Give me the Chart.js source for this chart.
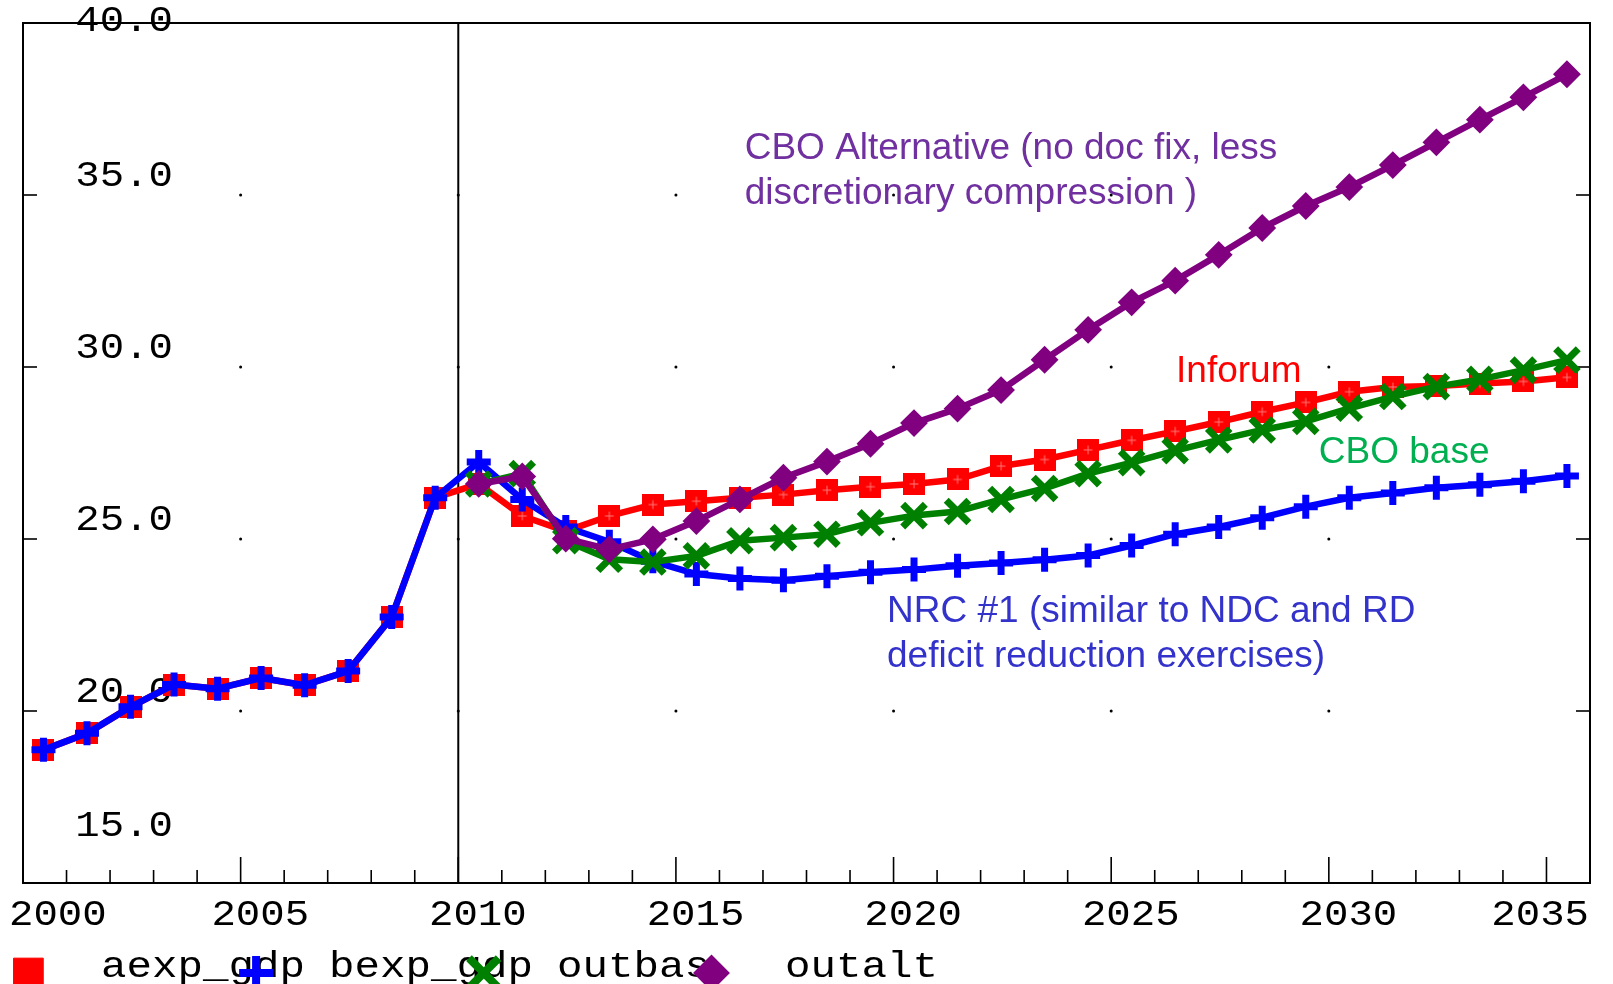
<!DOCTYPE html>
<html>
<head>
<meta charset="utf-8">
<script src="https://cdn.jsdelivr.net/npm/chart.js@4.4.0/dist/chart.umd.min.js"></script>
<style>
html,body{margin:0;padding:0;background:#ffffff;}
#wrap{width:1613px;height:984px;position:relative;}
canvas{display:block;}
</style>
</head>
<body>
<div id="wrap"><canvas id="c" width="1613" height="984"></canvas></div>
<script>
// ---------------- DATA ----------------
const years = [2000,2001,2002,2003,2004,2005,2006,2007,2008,2009,
               2010,2011,2012,2013,2014,2015,2016,2017,2018,2019,
               2020,2021,2022,2023,2024,2025,2026,2027,2028,2029,
               2030,2031,2032,2033,2034,2035];

const aexp_gdp = [18.87,19.35,20.12,20.77,20.65,20.96,20.75,21.16,22.73,26.20,
                  26.60,25.67,25.23,25.67,26.00,26.10,26.20,26.29,26.42,26.52,
                  26.60,26.73,27.12,27.31,27.59,27.87,28.13,28.40,28.70,28.97,
                  29.28,29.42,29.45,29.52,29.58,29.70];

const bexp_gdp = [18.87,19.35,20.12,20.77,20.65,20.96,20.75,21.16,22.73,26.20,
                  27.24,26.15,25.35,24.92,24.35,23.98,23.85,23.80,23.92,24.03,
                  24.11,24.22,24.30,24.40,24.52,24.81,25.14,25.35,25.62,25.94,
                  26.20,26.34,26.49,26.58,26.68,26.83];

const outbas = [null,null,null,null,null,null,null,null,null,null,
                26.60,26.90,24.95,24.41,24.33,24.51,24.95,25.04,25.14,25.47,
                25.68,25.80,26.15,26.47,26.90,27.22,27.57,27.88,28.17,28.42,
                28.80,29.14,29.43,29.64,29.91,30.20];

const outalt = [null,null,null,null,null,null,null,null,null,null,
                26.60,26.82,25.01,24.70,24.99,25.52,26.15,26.78,27.25,27.77,
                28.37,28.79,29.33,30.21,31.08,31.88,32.51,33.26,34.04,34.68,
                35.23,35.87,36.53,37.19,37.84,38.51];

const seriesNames = ['aexp_gdp','bexp_gdp','outbas','outalt'];
const xTickLabels = ['2000','2005','2010','2015','2020','2025','2030','2035'];
const yTickLabels = ['15.0','20.0','25.0','30.0','35.0','40.0'];

const noteAlt  = ['CBO Alternative (no doc fix, less','discretionary compression )'];
const noteInf  = ['Inforum'];
const noteBase = ['CBO base'];
const noteNrc  = ['NRC #1 (similar to NDC and RD','deficit reduction exercises)'];

// ---------------- CHART ----------------
const MID = 0.47; // annual values plotted at mid-year
const toPts = arr => years.map((yr, i) => ({x: yr + MID, y: arr[i]}));

const MONO = "'Liberation Mono', 'DejaVu Sans Mono', monospace";
const SANS = "'Liberation Sans', Arial, sans-serif";

function stretchText(ctx, text, x, y, align, sx) {
  const w = ctx.measureText(text).width * sx;
  let left = x;
  if (align === 'center') left = x - w / 2;
  else if (align === 'right') left = x - w;
  ctx.save();
  ctx.translate(left, y);
  ctx.scale(sx, 1);
  ctx.textAlign = 'left';
  ctx.fillText(text, 0, 0);
  ctx.restore();
  return w;
}

// red square marker with a faint inner cross, as in the source
function makeSquareMarker(size, color, inner) {
  const c = document.createElement('canvas');
  c.width = size; c.height = size;
  const g = c.getContext('2d');
  g.fillStyle = color;
  g.fillRect(0, 0, size, size);
  g.strokeStyle = inner;
  g.lineWidth = 1;
  const m = size / 2;
  g.beginPath();
  g.moveTo(m, size * 0.3); g.lineTo(m, size * 0.7);
  g.moveTo(size * 0.3, m); g.lineTo(size * 0.7, m);
  g.stroke();
  return c;
}
const redSquare = makeSquareMarker(22, '#FF0000', '#FF7A7A');

const framePlugin = {
  id: 'frame',
  beforeDatasetsDraw(chart) {
    const ctx = chart.ctx;
    const a = chart.chartArea;
    const xs = chart.scales.x, ys = chart.scales.y;
    ctx.save();
    ctx.strokeStyle = '#000';
    ctx.fillStyle = '#000';
    // frame
    ctx.lineWidth = 2;
    ctx.strokeRect(a.left, a.top, a.right - a.left, a.bottom - a.top);
    // vertical line at 2010
    const x10 = xs.getPixelForValue(2010);
    ctx.beginPath(); ctx.moveTo(x10, a.top); ctx.lineTo(x10, a.bottom); ctx.stroke();
    // x ticks
    ctx.lineWidth = 1.6;
    for (let yr = years[0] + 1; yr <= years[years.length - 1]; yr++) {
      const px = xs.getPixelForValue(yr);
      const len = (yr % 5 === 0) ? 26 : 13;
      ctx.beginPath(); ctx.moveTo(px, a.bottom); ctx.lineTo(px, a.bottom - len); ctx.stroke();
    }
    // y ticks (left & right)
    const yVals = yTickLabels.map(Number);
    yVals.forEach(v => {
      if (v <= ys.min || v >= ys.max) return;
      const py = ys.getPixelForValue(v);
      ctx.beginPath(); ctx.moveTo(a.left, py); ctx.lineTo(a.left + 14, py); ctx.stroke();
      ctx.beginPath(); ctx.moveTo(a.right, py); ctx.lineTo(a.right - 14, py); ctx.stroke();
    });
    // grid dots
    const xVals = xTickLabels.map(Number).filter(v => v > xs.min && v < 2035);
    xVals.forEach(xv => {
      yVals.forEach(yv => {
        if (yv <= ys.min || yv >= ys.max) return;
        ctx.beginPath();
        ctx.arc(xs.getPixelForValue(xv), ys.getPixelForValue(yv), 1.5, 0, Math.PI * 2);
        ctx.fill();
      });
    });
    // y labels (drawn inside plot)
    ctx.font = '36px ' + MONO;
    ctx.textBaseline = 'alphabetic';
    yTickLabels.forEach(lab => {
      const py = ys.getPixelForValue(Number(lab));
      let base = py - 9.5;
      base = Math.max(base, 31);
      base = Math.min(base, 836);
      stretchText(ctx, lab, 173, base, 'right', 1.13);
    });
    // x labels
    xTickLabels.forEach(lab => {
      const center = xs.getPixelForValue(Number(lab) + 0.45);
      const w = ctx.measureText(lab).width * 1.13;
      let left = center - w / 2;
      left = Math.max(left, 9);
      left = Math.min(left, a.right - 1 - w);
      stretchText(ctx, lab, left, 925, 'left', 1.13);
    });
    // annotations
    ctx.font = '37px ' + SANS;
    const notes = [
      {lines: noteAlt,  x: 2016.58, y: 36.05, color: '#7030A0'},
      {lines: noteInf,  x: 2026.49, y: 29.56, color: '#FF0000'},
      {lines: noteBase, x: 2029.77, y: 27.22, color: '#00B050'},
      {lines: noteNrc,  x: 2019.85, y: 22.59, color: '#3333CC'}
    ];
    ctx.textAlign = 'left';
    notes.forEach(n => {
      ctx.fillStyle = n.color;
      const px = xs.getPixelForValue(n.x);
      const py = ys.getPixelForValue(n.y);
      n.lines.forEach((t, i) => ctx.fillText(t, px, py + i * 45));
    });
    // legend
    ctx.font = '36px ' + MONO;
    const legMarker = [
      {style: 'rect', r: 21, bw: 1},
      {style: 'cross', r: 17, bw: 8},
      {style: 'crossRot', r: 21, bw: 8},
      {style: 'rectRot', r: 17, bw: 2}
    ];
    chart.data.datasets.forEach((ds, i) => {
      const mx = 28.4 + i * 227.7;
      const tx = 101 + i * 228;
      ctx.fillStyle = '#000';
      stretchText(ctx, ds.label, tx, 977, 'left', 1.18);
      ctx.save();
      ctx.fillStyle = ds.borderColor;
      ctx.strokeStyle = ds.borderColor;
      ctx.lineWidth = legMarker[i].bw;
      Chart.helpers.drawPoint(ctx, {pointStyle: legMarker[i].style, radius: legMarker[i].r, rotation: 0, borderWidth: legMarker[i].bw}, mx, 973);
      ctx.restore();
    });
    ctx.restore();
  }
};

const chart = new Chart(document.getElementById('c'), {
  type: 'line',
  data: {
    datasets: [
      {label: seriesNames[0], data: toPts(aexp_gdp), order: 3,
       borderColor: '#FF0000', backgroundColor: '#FF0000', borderWidth: 6.5,
       pointStyle: redSquare, pointRadius: 11,
       pointBackgroundColor: '#FF0000', pointBorderColor: '#FF0000'},
      {label: seriesNames[1], data: toPts(bexp_gdp), order: 2,
       borderColor: '#0000FF', backgroundColor: '#0000FF', borderWidth: 6.5,
       pointStyle: 'cross', pointRadius: 12, pointBorderWidth: 7,
       pointBackgroundColor: '#0000FF', pointBorderColor: '#0000FF'},
      {label: seriesNames[2], data: toPts(outbas), order: 1,
       borderColor: '#008000', backgroundColor: '#008000', borderWidth: 6.5,
       pointStyle: 'crossRot', pointRadius: 16, pointBorderWidth: 7,
       pointBackgroundColor: '#008000', pointBorderColor: '#008000'},
      {label: seriesNames[3], data: toPts(outalt), order: 0,
       borderColor: '#800080', backgroundColor: '#800080', borderWidth: 6.5,
       pointStyle: 'rectRot', pointRadius: 12.5, pointBorderWidth: 2,
       pointBackgroundColor: '#800080', pointBorderColor: '#800080'}
    ]
  },
  options: {
    responsive: false,
    animation: false,
    devicePixelRatio: 1,
    layout: {padding: {left: 22, top: 19, right: 17, bottom: 101}},
    elements: {line: {tension: 0, borderJoinStyle: 'round'}},
    scales: {
      x: {type: 'linear', min: 2000, max: 2036, display: false},
      y: {type: 'linear', min: 15, max: 40, display: false}
    },
    plugins: {legend: {display: false}, tooltip: {enabled: false}}
  },
  plugins: [framePlugin]
});
</script>
</body>
</html>
